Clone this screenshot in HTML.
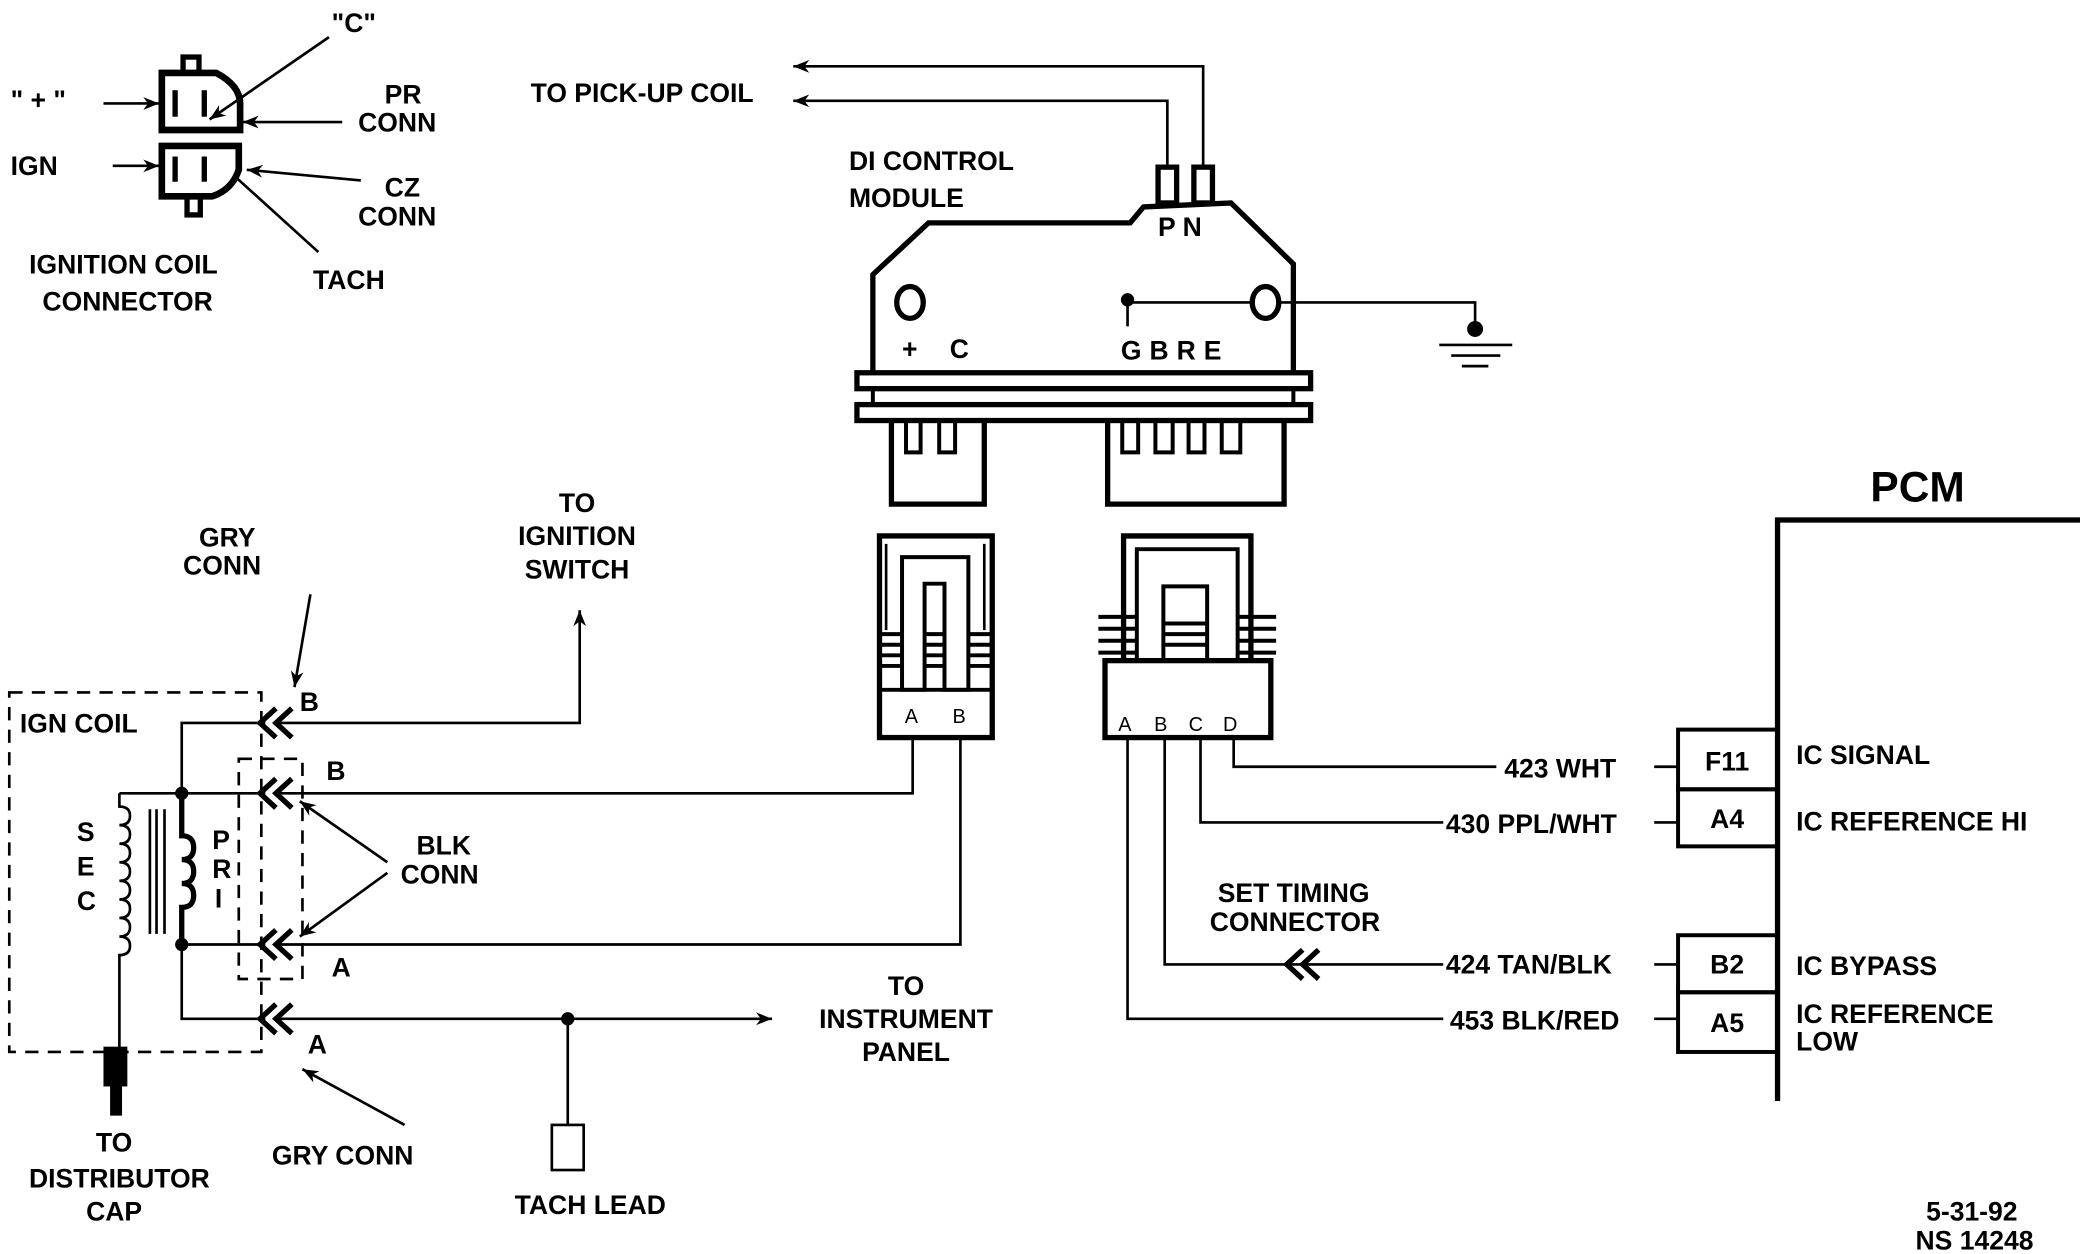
<!DOCTYPE html>
<html><head><meta charset="utf-8"><style>
html,body{margin:0;padding:0;background:#fff;}
svg{display:block;}
text{font-family:"Liberation Sans",sans-serif;font-weight:bold;fill:#000;font-size:20px;}
text.s{font-size:15px;font-weight:normal;}
text.big{font-size:32px;}
</style></head><body>
<svg width="2080" height="1254" viewBox="0 0 1568 945.3" preserveAspectRatio="none" xmlns="http://www.w3.org/2000/svg">
<defs>
<marker id="ar" viewBox="0 0 10 10" refX="10" refY="5" markerWidth="14" markerHeight="12" orient="auto" markerUnits="userSpaceOnUse"><path d="M0,1 L10,5 L0,9 L3,5 z" fill="#000"/></marker>
</defs>
<g stroke="#000" fill="none" stroke-width="2">
<rect x="138" y="43" width="12" height="12" stroke-width="4"/>
<path d="M122,55 H163 Q182,65 181,80 V98 H122 Z" stroke-width="5"/>
<line x1="132" y1="68" x2="132" y2="88" stroke-width="4"/>
<line x1="154" y1="68" x2="154" y2="88" stroke-width="4"/>
<path d="M122,110 H180 V128 Q175,143 160,148 H122 Z" stroke-width="5"/>
<rect x="141" y="148" width="10" height="14" stroke-width="4"/>
<line x1="132" y1="118" x2="132" y2="137" stroke-width="4"/>
<line x1="154" y1="118" x2="154" y2="137" stroke-width="4"/>
<line x1="78" y1="78" x2="120" y2="78" marker-end="url(#ar)"/>
<line x1="85" y1="125" x2="120" y2="125" marker-end="url(#ar)"/>
<line x1="248" y1="28" x2="158" y2="90" marker-end="url(#ar)"/>
<line x1="258" y1="92" x2="183" y2="92" marker-end="url(#ar)"/>
<line x1="272" y1="136" x2="186" y2="128" marker-end="url(#ar)"/>
<line x1="176" y1="132" x2="240" y2="190"/>

<polyline points="907,126 907,50 598,50" marker-end="url(#ar)"/>
<polyline points="880,126 880,76 598,76" marker-end="url(#ar)"/>
<rect x="873" y="126" width="14" height="27" stroke-width="4"/>
<rect x="900" y="126" width="14" height="27" stroke-width="4"/>

<path d="M658,282 V207 L700,168 H852 L862,156 L928,153 L975,199 V282" stroke-width="4"/>
<ellipse cx="686" cy="228" rx="10" ry="12" stroke-width="4"/>
<ellipse cx="954" cy="228" rx="10" ry="12" stroke-width="4"/>
<line x1="850" y1="228" x2="944" y2="228"/>
<line x1="850" y1="228" x2="850" y2="246"/>
<circle cx="850" cy="226" r="4" fill="#000"/>
<polyline points="964,228 1112,228 1112,248"/>
<circle cx="1112" cy="248" r="5" fill="#000"/>
<line x1="1085" y1="260" x2="1140" y2="260"/>
<line x1="1094" y1="268" x2="1131" y2="268"/>
<line x1="1102" y1="276" x2="1122" y2="276"/>
<rect x="646" y="281" width="342" height="12" stroke-width="4"/>
<rect x="646" y="305" width="342" height="12" stroke-width="4"/>
<line x1="658" y1="293" x2="658" y2="305" stroke-width="3"/>
<line x1="975" y1="293" x2="975" y2="305" stroke-width="3"/>
<path d="M672,317 V380 H742 V317" stroke-width="4"/>
<path d="M683,317 V341 H694 V317 M708,317 V341 H720 V317" stroke-width="3"/>
<path d="M835,317 V380 H968 V317" stroke-width="4"/>
<path d="M846,317 V341 H858 V317 M871,317 V341 H884 V317 M896,317 V341 H908 V317 M921,317 V341 H935 V317" stroke-width="3"/>

<rect x="663" y="404" width="85" height="152" stroke-width="4"/>
<line x1="663" y1="520" x2="748" y2="520" stroke-width="3"/>
<path d="M680,520 V420 H730 V520 H712 V440 H697 V520 Z" stroke-width="3"/>
<line x1="668" y1="410" x2="668" y2="475" stroke-width="2"/>
<line x1="742" y1="410" x2="742" y2="475" stroke-width="2"/>
<g stroke-width="3">
<line x1="662" y1="478" x2="680" y2="478"/><line x1="662" y1="486" x2="680" y2="486"/><line x1="662" y1="494" x2="680" y2="494"/><line x1="662" y1="502" x2="680" y2="502"/>
<line x1="730" y1="478" x2="748" y2="478"/><line x1="730" y1="486" x2="748" y2="486"/><line x1="730" y1="494" x2="748" y2="494"/><line x1="730" y1="502" x2="748" y2="502"/>
<line x1="697" y1="478" x2="712" y2="478"/><line x1="697" y1="486" x2="712" y2="486"/><line x1="697" y1="494" x2="712" y2="494"/><line x1="697" y1="502" x2="712" y2="502"/>
</g>

<rect x="833" y="498" width="125" height="58" stroke-width="4"/>
<path d="M847,498 V404 H943 V498" stroke-width="4"/>
<path d="M857,498 V414 H933 V498 H910 V442 H877 V498 Z" stroke-width="3"/>
<g stroke-width="3">
<line x1="828" y1="465" x2="857" y2="465"/><line x1="828" y1="474" x2="857" y2="474"/><line x1="828" y1="483" x2="857" y2="483"/><line x1="828" y1="492" x2="857" y2="492"/>
<line x1="933" y1="465" x2="962" y2="465"/><line x1="933" y1="474" x2="962" y2="474"/><line x1="933" y1="483" x2="962" y2="483"/><line x1="933" y1="492" x2="962" y2="492"/>
<line x1="877" y1="470" x2="910" y2="470"/><line x1="877" y1="478" x2="910" y2="478"/><line x1="877" y1="486" x2="910" y2="486"/>
</g>

<polyline points="930,556 930,578 1128,578"/>
<polyline points="905,556 905,620 1088,620"/>
<polyline points="878,556 878,727 1088,727"/>
<polyline points="850,556 850,768 1088,768"/>
<path d="M982,716 L970,727 L982,738 M994,716 L982,727 L994,738" stroke-width="4"/>
<line x1="1247" y1="578" x2="1265" y2="578"/>
<line x1="1247" y1="620" x2="1265" y2="620"/>
<line x1="1247" y1="727" x2="1265" y2="727"/>
<line x1="1247" y1="768" x2="1265" y2="768"/>
<rect x="1265" y="550" width="75" height="45" stroke-width="3"/>
<rect x="1265" y="595" width="75" height="43" stroke-width="3"/>
<rect x="1265" y="705" width="75" height="43" stroke-width="3"/>
<rect x="1265" y="748" width="75" height="45" stroke-width="3"/>
<polyline points="1568,392 1340,392 1340,830" stroke-width="4"/>

<rect x="7" y="522" width="190" height="271" stroke-dasharray="10,7"/>
<rect x="180" y="572" width="48" height="166" stroke-dasharray="10,7"/>
<polyline points="200,545 137,545 137,598"/>
<line x1="90" y1="598" x2="200" y2="598"/>
<path d="M90,598 V608 q8,0 8,7 t-8,7 q8,0 8,7 t-8,7 q8,0 8,7 t-8,7 q8,0 8,7 t-8,7 q8,0 8,7 t-8,7 q8,0 8,7 t-8,7 q8,0 8,7 t-8,7 q8,0 8,7 t-8,7 V790"/>
<line x1="113" y1="610" x2="113" y2="704"/>
<line x1="118" y1="610" x2="118" y2="704"/>
<line x1="124" y1="610" x2="124" y2="704"/>
<path d="M137,598 V630 q9,0 9,9 t-9,9 q9,0 9,9 t-9,9 q9,0 9,9 t-9,9 V712" stroke-width="4"/>
<circle cx="137" cy="598" r="4" fill="#000"/>
<circle cx="137" cy="712" r="4" fill="#000"/>
<line x1="137" y1="712" x2="200" y2="712"/>
<polyline points="137,712 137,768 200,768"/>
<g stroke-width="4">
<path d="M208,534 L196,545 L208,556 M220,534 L208,545 L220,556"/>
<path d="M208,587 L196,598 L208,609 M220,587 L208,598 L220,609"/>
<path d="M208,701 L196,712 L208,723 M220,701 L208,712 L220,723"/>
<path d="M208,757 L196,768 L208,779 M220,757 L208,768 L220,779"/>
</g>
<polyline points="208,545 437,545 437,460" marker-end="url(#ar)"/>
<polyline points="208,598 688,598 688,556"/>
<polyline points="208,712 724,712 724,556"/>
<line x1="208" y1="768" x2="582" y2="768" marker-end="url(#ar)"/>
<circle cx="428" cy="768" r="4" fill="#000"/>
<line x1="428" y1="768" x2="428" y2="848"/>
<rect x="416" y="848" width="24" height="34" stroke-width="2"/>
<rect x="79" y="790" width="16" height="28" fill="#000"/>
<rect x="84" y="818" width="7" height="22" fill="#000"/>
<line x1="234" y1="448" x2="222" y2="518" marker-end="url(#ar)"/>
<line x1="292" y1="650" x2="226" y2="604" marker-end="url(#ar)"/>
<line x1="292" y1="658" x2="226" y2="706" marker-end="url(#ar)"/>
<line x1="305" y1="848" x2="228" y2="806" marker-end="url(#ar)"/>
</g>

<g>
<text x="250" y="24">"C"</text>
<text x="8" y="82">" + "</text>
<text x="8" y="132">IGN</text>
<text x="290" y="78">PR</text>
<text x="270" y="99">CONN</text>
<text x="290" y="148">CZ</text>
<text x="270" y="170">CONN</text>
<text x="236" y="218">TACH</text>
<text x="22" y="206">IGNITION COIL</text>
<text x="32" y="234">CONNECTOR</text>
<text x="400" y="77">TO PICK-UP COIL</text>
<text x="640" y="128">DI CONTROL</text>
<text x="640" y="156">MODULE</text>
<text x="873" y="178">P N</text>
<text x="680" y="270">+</text>
<text x="716" y="270">C</text>
<text x="845" y="271" letter-spacing="6">GBRE</text>
<text class="s" x="682" y="545">A</text>
<text class="s" x="718" y="545">B</text>
<text class="s" x="843" y="551">A</text>
<text class="s" x="870" y="551">B</text>
<text class="s" x="896" y="551">C</text>
<text class="s" x="922" y="551">D</text>
<text class="big" x="1410" y="378">PCM</text>
<text x="1134" y="586">423 WHT</text>
<text x="1090" y="628">430 PPL/WHT</text>
<text x="1090" y="734">424 TAN/BLK</text>
<text x="1093" y="776">453 BLK/RED</text>
<text x="1302" y="581" text-anchor="middle">F11</text>
<text x="1302" y="624" text-anchor="middle">A4</text>
<text x="1302" y="734" text-anchor="middle">B2</text>
<text x="1302" y="778" text-anchor="middle">A5</text>
<text x="1354" y="576">IC SIGNAL</text>
<text x="1354" y="626">IC REFERENCE HI</text>
<text x="1354" y="735">IC BYPASS</text>
<text x="1354" y="771">IC REFERENCE</text>
<text x="1354" y="792">LOW</text>
<text x="918" y="680">SET TIMING</text>
<text x="912" y="702">CONNECTOR</text>
<text x="15" y="552">IGN COIL</text>
<text x="58" y="634">S</text>
<text x="58" y="660">E</text>
<text x="58" y="686">C</text>
<text x="160" y="640">P</text>
<text x="160" y="662">R</text>
<text x="162" y="684">I</text>
<text x="226" y="536">B</text>
<text x="246" y="588">B</text>
<text x="250" y="736">A</text>
<text x="232" y="794">A</text>
<text x="150" y="412">GRY</text>
<text x="138" y="433">CONN</text>
<text x="314" y="644">BLK</text>
<text x="302" y="666">CONN</text>
<text x="205" y="878">GRY  CONN</text>
<text x="435" y="386" text-anchor="middle">TO</text>
<text x="435" y="411" text-anchor="middle">IGNITION</text>
<text x="435" y="436" text-anchor="middle">SWITCH</text>
<text x="683" y="750" text-anchor="middle">TO</text>
<text x="683" y="775" text-anchor="middle">INSTRUMENT</text>
<text x="683" y="800" text-anchor="middle">PANEL</text>
<text x="388" y="915">TACH LEAD</text>
<text x="86" y="868" text-anchor="middle">TO</text>
<text x="90" y="895" text-anchor="middle">DISTRIBUTOR</text>
<text x="86" y="920" text-anchor="middle">CAP</text>
<text x="1452" y="920">5-31-92</text>
<text x="1444" y="942">NS 14248</text>
</g>
</svg>
</body></html>
